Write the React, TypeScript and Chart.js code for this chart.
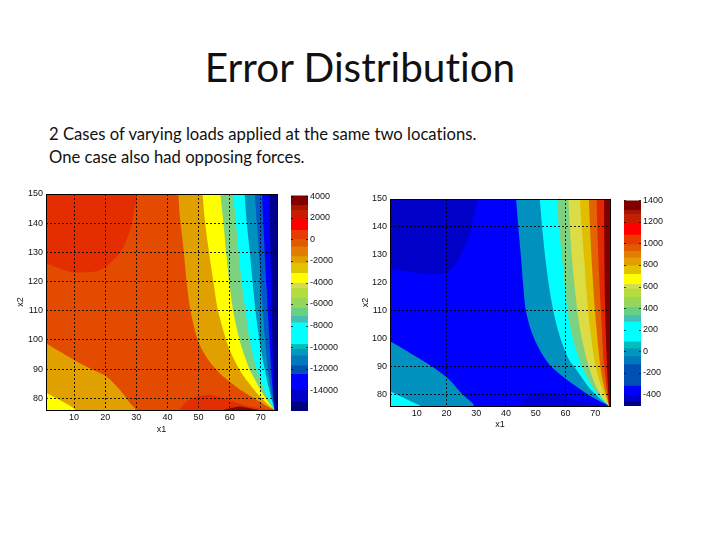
import React, { useEffect, useRef } from "react";
import { Chart, registerables } from "chart.js";

Chart.register(...registerables);

type Pt = [number, number];

const titleText = "Error Distribution";
const subtitleLines = [
  "2 Cases of varying loads applied at the same two locations.",
  "One case also had opposing forces.",
];
const axisTicksFont = "Liberation Sans";

/* Left panel: contour boundaries in data units (x1, x2) */
const leftRange = { xMin: 1, xMax: 75.2, yMin: 76, yMax: 150 };
const leftUpperRed: Pt[] = [[1, 150], [29.6, 150], [29.2, 143.4], [28, 137.7], [25.3, 130.8], [21.5, 126.3], [17.8, 123.7], [13.5, 123.1], [8.7, 123.4], [4.4, 124.9], [1, 126.3]];
const leftLowerGold: Pt[] = [[1, 98.9], [5.5, 96], [10.8, 92.6], [16.2, 89.7], [20.5, 87.4], [24.7, 82.9], [28, 78.3], [29.6, 76], [1, 76]];
const leftCornerYellow: Pt[] = [[1, 82], [4.4, 80], [7.6, 78.1], [10.3, 76], [1, 76]];
const leftDome: Pt[] = [[44, 76], [46.1, 78.9], [49.3, 80.4], [53.6, 81.2], [57.9, 80], [62.2, 78.5], [66.5, 77.2], [72, 76.2], [74.5, 76]];
const leftDomeInner: Pt[] = [[57.9, 76], [60, 76.6], [63.2, 77.2], [66.5, 76.6], [69.1, 76]];
const leftEdgeA: Pt[] = [[43.5, 150], [44, 142.2], [45.1, 132], [46.1, 120.5], [47.2, 111.4], [48.8, 103.4], [50.4, 98.3], [53.1, 93.2], [56.8, 88.6], [60, 85.7], [64.3, 82.3], [68.6, 79.5], [71.8, 77.4], [74.5, 76]];
const leftEdgeB: Pt[] = [[51.3, 150], [52, 141.1], [53.1, 132], [54.7, 120.5], [56, 111.4], [57.9, 103.4], [60, 96.6], [63.2, 89.7], [67.5, 83.4], [71.3, 78.9], [74.5, 76]];
const leftEdgeC: Pt[] = [[57, 150], [57.9, 141.1], [59, 128.5], [59.8, 120.5], [60.9, 111.4], [62.4, 103.4], [63.8, 97.7], [66.5, 89.7], [69.7, 83.4], [72.3, 78.9], [74.5, 76]];
const leftEdgeD: Pt[] = [[61.1, 150], [61.9, 141.1], [63, 128.5], [64, 118.3], [65.2, 109.1], [66.5, 100], [68.4, 90.9], [70.7, 84], [72.9, 78.9], [74.5, 76]];
const leftEdgeE: Pt[] = [[64.8, 150], [65.4, 141.1], [66.5, 129.7], [67.5, 118.3], [68.4, 109.1], [69.7, 98.9], [71.3, 89.7], [72.7, 82.9], [74.5, 76]];
const leftEdgeF: Pt[] = [[68.1, 150], [68.8, 138.8], [69.7, 125.1], [70.4, 113.7], [71.3, 101.1], [72.3, 89.7], [73.4, 81.7], [74.5, 76]];
const leftEdgeG: Pt[] = [[70.4, 150], [70.9, 137.7], [71.6, 122.8], [72.3, 109.1], [72.9, 97.7], [73.5, 87.4], [74.5, 76]];
const leftEdgeH: Pt[] = [[72.7, 150], [73.1, 132], [73.4, 114.8], [73.7, 100], [74, 86.3], [74.5, 76]];

/* Right panel */
const rightRange = { xMin: 1, xMax: 75, yMin: 75.8, yMax: 150 };
const rightUpperDark: Pt[] = [[1, 150], [29.6, 150], [29, 143.1], [27.3, 135.9], [24.5, 129.3], [20.6, 123.9], [14.5, 123], [8.3, 123.7], [1, 125.4]];
const rightLowerTeal: Pt[] = [[1, 99], [7.2, 95.2], [14.5, 90.4], [20.6, 85.6], [25.1, 80.3], [29, 75.8], [1, 75.8]];
const rightCornerCyan: Pt[] = [[1, 81.1], [4.9, 79.1], [8.3, 77.3], [11.1, 75.8], [1, 75.8]];
const rightDome: Pt[] = [[44.2, 75.8], [45.3, 77.3], [48.6, 79.9], [53.1, 80.6], [58.7, 79.4], [65.5, 77.3], [73.3, 75.8]];
const rightEdgeA: Pt[] = [[43.4, 150], [44.2, 139.5], [45.1, 128.7], [45.8, 119.1], [46.7, 109.9], [48.6, 102.4], [51.1, 96.4], [54.8, 90.4], [59.3, 86.2], [63.8, 82.7], [68.8, 79.1], [74.7, 75.8]];
const rightEdgeB: Pt[] = [[51.4, 150], [52.2, 139.5], [53.4, 127.5], [54.8, 116.7], [56.5, 107.2], [58.7, 98.8], [61, 92.8], [63.8, 88.6], [67.7, 82.7], [71.6, 78.5], [74.7, 75.8]];
const rightEdgeC: Pt[] = [[57.1, 150], [57.8, 139.5], [59, 127.5], [60.1, 115.6], [61.5, 104.8], [63.8, 95.2], [66.6, 87.4], [69.9, 81.5], [74.7, 75.8]];
const rightEdgeD: Pt[] = [[61, 150], [61.5, 139.5], [62.3, 127.5], [63.4, 115.6], [64.9, 103.6], [67.1, 92.8], [69.4, 85], [72.2, 79.1], [74.7, 75.8]];
const rightEdgeE: Pt[] = [[64.9, 150], [65.5, 139.5], [66.4, 127.5], [67.1, 116.7], [68.3, 103.6], [69.9, 91.6], [71.6, 84.4], [74.7, 75.8]];
const rightEdgeF: Pt[] = [[67.9, 150], [68.4, 137.1], [69, 125.1], [69.9, 110.8], [71.1, 96.4], [72.2, 86.8], [74.7, 75.8]];
const rightEdgeG: Pt[] = [[70.5, 150], [70.8, 137.1], [71.4, 121.5], [72.2, 104.8], [72.9, 91.6], [74.7, 75.8]];
const rightEdgeH: Pt[] = [[73, 150], [73.1, 131.1], [73.3, 113.2], [73.9, 92.8], [74.7, 75.8]];

const gridAllX = [10, 20, 30, 40, 50, 60, 70];
const gridAllY = [80, 90, 100, 110, 120, 130, 140];
const rightGridX = [20, 40, 60];
const rightGridY = [80, 90, 110, 140];

/* Colour bars */
const bandColors = [
  "rgb(128,0,0)", "rgb(170,20,0)", "rgb(200,30,0)", "rgb(255,0,0)", "rgb(230,60,0)", "rgb(225,90,0)",
  "rgb(225,125,0)", "rgb(225,160,0)", "rgb(225,195,0)", "rgb(255,255,0)", "rgb(210,220,80)", "rgb(180,220,60)",
  "rgb(150,215,90)", "rgb(100,210,130)", "rgb(70,190,180)", "rgb(0,255,255)", "rgb(0,190,190)", "rgb(0,150,190)",
  "rgb(0,120,190)", "rgb(0,80,180)", "rgb(0,0,255)", "rgb(0,0,200)", "rgb(0,0,130)",
];
const leftLevels = [4100, 3231, 2769, 2000, 923, 0, -615, -1538, -2154, -3077, -4000, -4462, -5385, -6308, -7077, -7692, -9692, -10154, -10769, -11692, -12462, -14000, -15077, -15950];
const rightLevels = [1400, 1314, 1269, 1192, 1085, 994, 933, 872, 795, 719, 627, 582, 505, 414, 337, 276, 93, 30, -44, -120, -319, -411, -460, -510];
const leftBarTicks = [4000, 2000, 0, -2000, -4000, -6000, -8000, -10000, -12000, -14000];
const rightBarTicks = [1400, 1200, 1000, 800, 600, 400, 200, 0, -200, -400];

const C = {
  base: "rgb(226,75,0)", red: "rgb(228,45,0)", gold: "rgb(224,160,0)", yellow: "rgb(255,255,0)",
  green: "rgb(125,210,130)", cyan: "rgb(0,255,255)", teal: "rgb(0,145,190)", midBlue: "rgb(0,90,200)",
  blue: "rgb(0,0,255)", navy: "rgb(0,0,140)", maroon: "rgb(130,10,0)", darkBlue: "rgb(0,0,200)",
  domeBlue: "rgb(0,0,215)", olive: "rgb(220,220,70)", amber: "rgb(225,190,0)", orange: "rgb(225,100,0)",
  scarlet: "rgb(225,40,0)", deepRed: "rgb(128,0,0)",
};

const boxPlugin = {
  id: "box",
  afterDraw(chart: any) {
    const { ctx, chartArea: a } = chart;
    ctx.save();
    ctx.strokeStyle = "#000";
    ctx.lineWidth = 1;
    ctx.strokeRect(Math.round(a.left) + 0.5, Math.round(a.top) + 0.5, Math.round(a.width), Math.round(a.height));
    ctx.restore();
  },
};

const barTickPlugin = {
  id: "barTicks",
  afterDraw(chart: any) {
    const { ctx, chartArea: a, scales } = chart;
    ctx.save();
    ctx.strokeStyle = "rgba(0,0,0,0.7)";
    ctx.lineWidth = 1;
    for (const t of scales.y.ticks) {
      const py = Math.round(scales.y.getPixelForValue(t.value)) + 0.5;
      ctx.beginPath();
      ctx.moveTo(a.left, py);
      ctx.lineTo(a.left + 2, py);
      ctx.moveTo(a.right - 2, py);
      ctx.lineTo(a.right, py);
      ctx.stroke();
    }
    ctx.restore();
  },
};

function layer(points: Pt[], color: string, tension: number) {
  return {
    data: points.map(([x, y]) => ({ x, y })),
    backgroundColor: color,
    borderColor: color,
    borderWidth: 0,
    pointRadius: 0,
    showLine: true,
    fill: "shape",
    tension,
  };
}

function contourConfig(opts: {
  range: { xMin: number; xMax: number; yMin: number; yMax: number };
  layers: [Pt[], string][];
  gridX: number[];
  gridY: number[];
  yWidth: number;
  xHeight: number;
  pad: { top: number; right: number };
}) {
  const { range, layers, gridX, gridY } = opts;
  const font = { family: axisTicksFont, size: 9 };
  const gridColor = "rgba(0,0,0,0.85)";
  // painted last-to-first by the filler, so the top layer comes first
  const datasets = layers.map(([p, c], i) => layer(p, c, i === 0 ? 0 : 0.3)).reverse();
  return {
    type: "scatter" as const,
    data: { datasets },
    plugins: [boxPlugin],
    options: {
      animation: false as const,
      responsive: false,
      layout: { padding: { top: opts.pad.top, right: opts.pad.right, left: 0, bottom: 0 } },
      plugins: { legend: { display: false }, tooltip: { enabled: false }, title: { display: false } },
      scales: {
        x: {
          type: "linear" as const,
          min: range.xMin,
          max: range.xMax,
          afterFit: (s: any) => { s.height = opts.xHeight; },
          ticks: { stepSize: 10, includeBounds: false, color: "#111", font, padding: 2, maxRotation: 0 },
          grid: {
            z: 1,
            drawTicks: false,
            lineWidth: 1,
            color: (c: any) => (gridX.includes(c.tick?.value) ? gridColor : "transparent"),
          },
          border: { dash: [2, 2], display: false },
          title: { display: true, text: "x1", color: "#111", font, padding: { top: 0, bottom: 0 } },
        },
        y: {
          type: "linear" as const,
          min: range.yMin,
          max: range.yMax,
          afterFit: (s: any) => { s.width = opts.yWidth; },
          ticks: { stepSize: 10, includeBounds: false, color: "#111", font, padding: 3 },
          grid: {
            z: 1,
            drawTicks: false,
            lineWidth: 1,
            color: (c: any) => (gridY.includes(c.tick?.value) ? gridColor : "transparent"),
          },
          border: { dash: [2, 2], display: false },
          title: { display: true, text: "x2", color: "#111", font, padding: { top: 5, bottom: 0 } },
        },
      },
    },
  };
}

function barConfig(levels: number[], tickValues: number[], yWidth: number, top: number, bottom: number) {
  const datasets = bandColors.map((color, i) => ({
    data: [[levels[i + 1], levels[i]]],
    backgroundColor: color,
    borderWidth: 0,
    barPercentage: 1,
    categoryPercentage: 1,
  }));
  return {
    type: "bar" as const,
    data: { labels: [""], datasets },
    plugins: [barTickPlugin],
    options: {
      animation: false as const,
      responsive: false,
      layout: { padding: { top, bottom, left: 0, right: 0 } },
      plugins: { legend: { display: false }, tooltip: { enabled: false } },
      scales: {
        x: { stacked: true, display: false },
        y: {
          position: "right" as const,
          min: levels[levels.length - 1],
          max: levels[0],
          afterFit: (s: any) => { s.width = yWidth; },
          afterBuildTicks: (s: any) => { s.ticks = tickValues.map((value) => ({ value })); },
          ticks: {
            color: "#111",
            font: { family: axisTicksFont, size: 9 },
            padding: 2,
            autoSkip: false,
            callback: (v: any) => String(v),
          },
          grid: { display: false, drawTicks: false },
          border: { display: false },
        },
      },
    },
  };
}

function layersFor(
  r: { xMin: number; xMax: number; yMin: number; yMax: number },
  baseColor: string,
  items: [Pt[], string, boolean][],
): [Pt[], string][] {
  const base: Pt[] = [[r.xMin, r.yMin], [r.xMax, r.yMin], [r.xMax, r.yMax], [r.xMin, r.yMax]];
  const out: [Pt[], string][] = [[base, baseColor]];
  for (const [pts, color, toRight] of items) {
    out.push([toRight ? [...pts, [r.xMax, r.yMin], [r.xMax, r.yMax]] : pts, color]);
  }
  return out;
}

const panels = [
  {
    style: { left: 10, top: 185 }, width: 275, height: 250,
    config: () => contourConfig({
      range: leftRange,
      layers: layersFor(leftRange, C.base, [
        [leftUpperRed, C.red, false], [leftLowerGold, C.gold, false], [leftCornerYellow, C.yellow, false],
        [leftDome, C.red, false], [leftDomeInner, C.maroon, false],
        [leftEdgeA, C.gold, true], [leftEdgeB, C.yellow, true], [leftEdgeC, C.green, true], [leftEdgeD, C.cyan, true],
        [leftEdgeE, C.teal, true], [leftEdgeF, C.midBlue, true], [leftEdgeG, C.blue, true], [leftEdgeH, C.navy, true],
      ]),
      gridX: gridAllX, gridY: gridAllY, yWidth: 36, xHeight: 25, pad: { top: 9, right: 8 },
    }),
  },
  {
    style: { left: 291, top: 188 }, width: 50, height: 232,
    config: () => barConfig(leftLevels, leftBarTicks, 33, 6, 9),
  },
  {
    style: { left: 355, top: 190 }, width: 263, height: 240,
    config: () => contourConfig({
      range: rightRange,
      layers: layersFor(rightRange, C.blue, [
        [rightUpperDark, C.darkBlue, false], [rightLowerTeal, C.teal, false], [rightCornerCyan, C.cyan, false],
        [rightDome, C.domeBlue, false],
        [rightEdgeA, C.teal, true], [rightEdgeB, C.cyan, true], [rightEdgeC, C.green, true], [rightEdgeD, C.olive, true],
        [rightEdgeE, C.amber, true], [rightEdgeF, C.orange, true], [rightEdgeG, C.scarlet, true], [rightEdgeH, C.deepRed, true],
      ]),
      gridX: rightGridX, gridY: rightGridY, yWidth: 35, xHeight: 24, pad: { top: 9, right: 8 },
    }),
  },
  {
    style: { left: 624, top: 193 }, width: 50, height: 222,
    config: () => barConfig(rightLevels, rightBarTicks, 33, 6, 9),
  },
];

export default function App() {
  const refs = useRef<(HTMLCanvasElement | null)[]>([]);
  useEffect(() => {
    const charts = panels.map((p, i) => new Chart(refs.current[i] as HTMLCanvasElement, p.config() as any));
    return () => charts.forEach((c) => c.destroy());
  }, []);
  return (
    <div style={{ position: "fixed", left: 0, top: 0, width: 720, height: 540, background: "#fff", overflow: "hidden" }}>
      <div style={{ position: "absolute", left: 0, width: 720, top: 42, textAlign: "center", fontFamily: "Lato", fontSize: 40.5, lineHeight: "50px", color: "#111", fontVariantLigatures: "none" }}>
        {titleText}
      </div>
      {subtitleLines.map((t, i) => (
        <div key={t} style={{ position: "absolute", left: 49, top: 123 + i * 23, fontFamily: "Lato", fontSize: 16.65, lineHeight: "22px", color: "#111", whiteSpace: "nowrap", fontVariantLigatures: "none" }}>
          {t}
        </div>
      ))}
      {panels.map((p, i) => (
        <canvas
          key={i}
          ref={(el) => { refs.current[i] = el; }}
          width={p.width}
          height={p.height}
          style={{ position: "absolute", ...p.style, width: p.width, height: p.height }}
        />
      ))}
    </div>
  );
}
